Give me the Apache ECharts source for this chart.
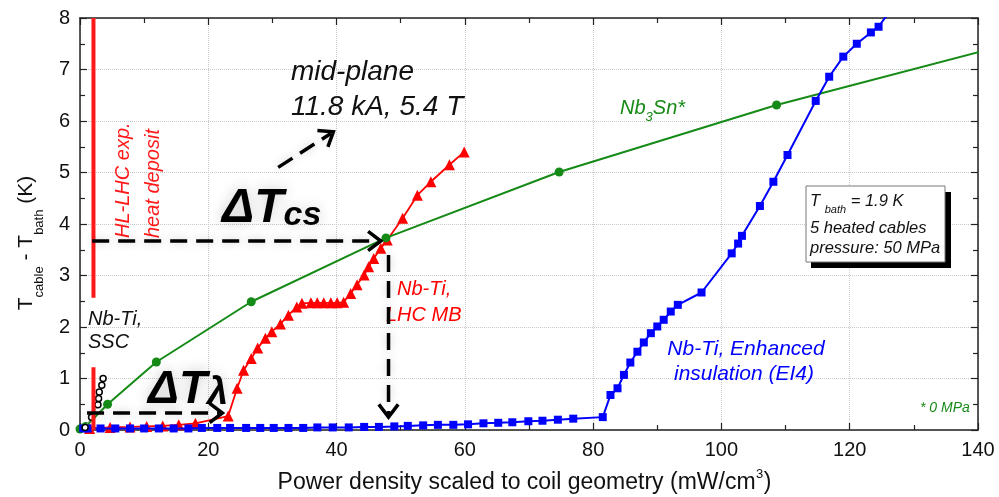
<!DOCTYPE html>
<html>
<head>
<meta charset="utf-8">
<script src="https://cdn.jsdelivr.net/npm/echarts@6/dist/echarts.min.js"></script>
<style>
  html, body { margin: 0; padding: 0; background: #fff; }
  #chart { width: 999px; height: 497px; }
</style>
</head>
<body>
<div id="chart"></div>
<script>
// tick labels
const xTicks = [0, 20, 40, 60, 80, 100, 120, 140]
const yTicks = [0, 1, 2, 3, 4, 5, 6, 7, 8]

// Nb3Sn* (0 MPa) - green circles, last point only continues the line
const nb3snPts = [[0, 0.02], [0.9, 0.07], [4.3, 0.5], [11.9, 1.32], [26.7, 2.49], [47.7, 3.73], [74.7, 5.01], [108.6, 6.31]]
const nb3snEnd = [140.5, 7.35]

// Nb-Ti, LHC MB - red triangles
const lhcPts = [
  [1.5, 0.03], [4.7, 0.05], [7.8, 0.06], [10.4, 0.07], [12.9, 0.08], [15.4, 0.1], [18.0, 0.13], [23.1, 0.27],
  [24.5, 0.81], [25.5, 1.16], [26.7, 1.39], [27.7, 1.59], [28.9, 1.78], [29.9, 1.91], [31.25, 2.06], [32.5, 2.23],
  [33.8, 2.39], [34.6, 2.46], [36.0, 2.47], [37.0, 2.47], [38.0, 2.47], [39.1, 2.47], [40.1, 2.47], [41.1, 2.48],
  [42.2, 2.65], [43.2, 2.82], [44.3, 3.01], [45.0, 3.17], [45.8, 3.33], [46.9, 3.53], [47.9, 3.69], [50.3, 4.11],
  [52.6, 4.56], [54.7, 4.82], [57.6, 5.15], [59.9, 5.4]
]

// Nb-Ti, Enhanced insulation (EI4) - blue squares
const ei4Pts = [
  [0.5, 0.03], [1.2, 0.03], [3.2, 0.03], [5.5, 0.03], [7.8, 0.03], [10.0, 0.03], [12.3, 0.03], [14.6, 0.03],
  [16.9, 0.03], [19.0, 0.04], [21.4, 0.04], [23.4, 0.04], [25.9, 0.04], [28.1, 0.04], [30.2, 0.04], [32.5, 0.04],
  [34.8, 0.04], [37.0, 0.05], [39.4, 0.05], [41.9, 0.05], [44.3, 0.06], [46.6, 0.06], [49.0, 0.07], [51.1, 0.08],
  [53.5, 0.09], [55.8, 0.1], [58.2, 0.1], [60.5, 0.11], [62.9, 0.13], [65.2, 0.14], [67.4, 0.15], [69.9, 0.17],
  [72.1, 0.18], [74.5, 0.2], [76.9, 0.22], [81.5, 0.25], [82.7, 0.68], [83.8, 0.81], [84.8, 1.07], [85.8, 1.31],
  [86.9, 1.52], [87.9, 1.7], [89.0, 1.88], [90.0, 2.01], [91.0, 2.14], [92.1, 2.3], [93.2, 2.43], [96.9, 2.67],
  [101.6, 3.43], [102.6, 3.62], [103.2, 3.77], [106.0, 4.35], [108.1, 4.82], [110.3, 5.34], [114.7, 6.39],
  [116.8, 6.86], [119.0, 7.25], [121.1, 7.5], [123.3, 7.72], [124.5, 7.83]
]
const ei4End = [127.5, 8.35]

// Nb-Ti, SSC - small open circles near the origin
const sscPts = [[0.8, 0.05], [1.8, 0.25], [2.8, 0.49], [2.9, 0.61], [3.0, 0.74], [3.4, 0.87], [3.6, 1.0]]

// HL-LHC expected heat deposit (vertical line, broken behind the SSC label)
const hlLhcX = 2.1
const hlLhcSpans = [[0, 1.22], [2.57, 8]]

// dashed arrows (data coordinates)
const csArrow = [[1.9, 3.67], [46.9, 3.67]]
const dropArrow = [[48.1, 3.4], [48.1, 0.25]]
const lambdaArrow = [[1.1, 0.33], [22.2, 0.33]]
const midArrow = [[30.9, 5.1], [39.5, 5.79]]

const FONT = 'Liberation Sans, Arial, sans-serif'
const RED = '#ff0000'
const GREEN = '#168a16'
const BLUE = '#0000ff'

let chart = echarts.init(document.getElementById('chart'))

const withEnd = (pts, end) => pts.map(p => ({ value: p })).concat([{ value: end, symbol: 'none' }])
const hlLhcData = []
hlLhcSpans.forEach((s, i) => {
  if (i > 0) hlLhcData.push([hlLhcX, '-'])
  hlLhcData.push([hlLhcX, s[0]], [hlLhcX, s[1]])
})

const tickAxis = {
  axisLine: { show: true, onZero: false, lineStyle: { color: '#222', width: 1.5 } },
  axisTick: { show: true, inside: true, length: 7, lineStyle: { color: '#222', width: 1.2 } },
  minorTick: { show: true, splitNumber: 2, length: 5, lineStyle: { color: '#222', width: 1.2 } },
}
const xRange = { min: xTicks[0], max: xTicks[xTicks.length - 1], interval: xTicks[1] - xTicks[0] }
const yRange = { min: yTicks[0], max: yTicks[yTicks.length - 1], interval: yTicks[1] - yTicks[0] }

const option = {
  animation: false,
  grid: { left: 80, right: 21, top: 18, bottom: 67, containLabel: false, outerBoundsMode: 'none' },
  xAxis: [
    {
      ...tickAxis,
      ...xRange,
      type: 'value',
      position: 'bottom',
      axisLabel: { fontFamily: FONT, fontSize: 20, color: '#111', margin: 10 },
      splitLine: { show: true, lineStyle: { color: '#c8c8c8', type: 'dotted', width: 1 } },
    },
    {
      ...tickAxis,
      ...xRange,
      type: 'value',
      position: 'top',
      axisLabel: { show: false },
      splitLine: { show: false },
    },
  ],
  yAxis: [
    {
      ...tickAxis,
      ...yRange,
      type: 'value',
      position: 'left',
      axisLabel: { fontFamily: FONT, fontSize: 20, color: '#111', margin: 10 },
      splitLine: { show: true, lineStyle: { color: '#c8c8c8', type: 'dotted', width: 1 } },
    },
    {
      ...tickAxis,
      ...yRange,
      type: 'value',
      position: 'right',
      axisLabel: { show: false },
      splitLine: { show: false },
    },
  ],
  series: [
    {
      name: 'Nb-Ti, LHC MB',
      type: 'line',
      data: lhcPts,
      symbol: 'triangle',
      symbolSize: 11,
      lineStyle: { color: RED, width: 1.8 },
      itemStyle: { color: RED },
      z: 3,
    },
    {
      name: 'Nb3Sn',
      type: 'line',
      data: withEnd(nb3snPts, nb3snEnd),
      symbol: 'circle',
      symbolSize: 9,
      lineStyle: { color: GREEN, width: 2 },
      itemStyle: { color: GREEN },
      z: 4,
    },
    {
      name: 'EI4',
      type: 'line',
      data: withEnd(ei4Pts, ei4End),
      symbol: 'rect',
      symbolSize: 8,
      lineStyle: { color: BLUE, width: 2 },
      itemStyle: { color: BLUE },
      z: 5,
    },
    {
      name: 'SSC',
      type: 'line',
      data: sscPts,
      symbol: 'circle',
      symbolSize: 6,
      lineStyle: { color: '#999', width: 1 },
      itemStyle: { color: '#fff', borderColor: '#000', borderWidth: 1.5 },
      z: 6,
    },
    {
      name: 'HL-LHC',
      type: 'line',
      data: hlLhcData,
      symbol: 'none',
      connectNulls: false,
      lineStyle: { color: '#ff1a1a', width: 4 },
      z: 7,
    },
  ],
}
chart.setOption(option)

// ---- annotations ----
const px = p => [
  chart.convertToPixel({ xAxisIndex: 0 }, p[0]),
  chart.convertToPixel({ yAxisIndex: 0 }, p[1]),
]

const ctx = document.createElement('canvas').getContext('2d')
function measure(text, size) {
  ctx.font = size + 'px ' + FONT
  return ctx.measureText(text).width
}

function dashedArrow(seg) {
  const p = px(seg[0]), q = px(seg[1])
  const dx = q[0] - p[0], dy = q[1] - p[1]
  const len = Math.hypot(dx, dy)
  const ux = dx / len, uy = dy / len
  const L = 16, ang = 0.65
  const c = Math.cos(ang), s = Math.sin(ang)
  const arm = k => [q[0] - L * (ux * c - k * uy * s), q[1] - L * (uy * c + k * ux * s)]
  return [
    {
      type: 'line',
      z: 100,
      shape: { x1: p[0], y1: p[1], x2: q[0] - ux * 3, y2: q[1] - uy * 3 },
      style: { stroke: '#000', lineWidth: 3.5, lineDash: [17, 9], shadowBlur: 10, shadowColor: 'rgba(0,0,0,0.22)' },
    },
    {
      type: 'polyline',
      z: 100,
      shape: { points: [arm(1), q, arm(-1)] },
      style: { stroke: '#000', lineWidth: 3.5, fill: null },
    },
  ]
}

function txt(x, y, text, o) {
  return {
    type: 'text',
    z: 90,
    x: x,
    y: y,
    rotation: o.rotation || 0,
    style: {
      text: text,
      fontFamily: FONT,
      fontSize: o.size || 20,
      fontStyle: o.upright ? 'normal' : 'italic',
      fontWeight: o.weight || 'normal',
      fill: o.color || '#111',
      align: o.align || 'left',
      verticalAlign: 'middle',
      rich: o.rich,
      textShadowBlur: o.glow || 0,
      textShadowColor: 'rgba(0,0,0,0.22)',
    },
  }
}

const it = (size, color, extra) => Object.assign({ fontFamily: FONT, fontSize: size, fontStyle: 'italic', fill: color }, extra)
const up = (size, extra) => Object.assign({ fontFamily: FONT, fontSize: size, fontStyle: 'normal', fill: '#111' }, extra)

// x axis title with superscript
const xTitleMain = 'Power density scaled to coil geometry (mW/cm'
const w1 = measure(xTitleMain, 23), w2 = measure('3', 13), w3 = measure(')', 23)
const xt0 = 524 - (w1 + w2 + w3) / 2
const xTitle = [
  txt(xt0, 483, xTitleMain, { size: 23, upright: true }),
  txt(xt0 + w1 + 0.5, 474, '3', { size: 13, upright: true }),
  txt(xt0 + w1 + w2 + 1, 483, ')', { size: 23, upright: true }),
]

const graphics = [].concat(
  xTitle,
  // y axis title
  txt(31, 243, '{a|T}{s|cable}{a| - T}{s|bath}{a| (K)}', {
    rotation: Math.PI / 2,
    align: 'center',
    rich: {
      a: up(21, { lineHeight: 30, verticalAlign: 'top' }),
      s: up(13, { lineHeight: 13, verticalAlign: 'bottom' }),
    },
  }),
  // mid-plane
  txt(291, 72, 'mid-plane', { size: 28 }),
  txt(291, 107, '11.8 kA, 5.4 T', { size: 28 }),
  // ΔTcs
  txt(222, 208, '{a|ΔT}{b|cs}', {
    glow: 14,
    rich: {
      a: it(48, '#000', { fontWeight: 'bold', lineHeight: 50, verticalAlign: 'bottom' }),
      b: it(34, '#000', { fontWeight: 'bold', lineHeight: 36, verticalAlign: 'bottom' }),
    },
  }),
  // ΔTλ
  txt(148, 389, '{a|ΔT}{b|λ}', {
    glow: 14,
    rich: {
      a: it(46, '#000', { fontWeight: 'bold', lineHeight: 48, verticalAlign: 'bottom' }),
      b: it(38, '#000', { fontWeight: 'bold', lineHeight: 40, verticalAlign: 'bottom' }),
    },
  }),
  // HL-LHC label
  txt(123, 238, 'HL-LHC exp.', { color: '#ff1a1a', rotation: Math.PI / 2 }),
  txt(153, 238, 'heat deposit', { color: '#ff1a1a', rotation: Math.PI / 2 }),
  // SSC label
  txt(88, 319, 'Nb-Ti,', {}),
  txt(88, 342, 'SSC', {}),
  // LHC MB label
  txt(397, 289, 'Nb-Ti,', { color: RED }),
  txt(386, 315, 'LHC MB', { color: RED }),
  // Nb3Sn label
  txt(620, 111, '{a|Nb}{s|3}{a|Sn*}', {
    rich: {
      a: it(20, GREEN, { lineHeight: 26, verticalAlign: 'top' }),
      s: it(13, GREEN, { lineHeight: 13, verticalAlign: 'bottom' }),
    },
  }),
  // EI4 label
  txt(746, 349, 'Nb-Ti, Enhanced', { color: BLUE, size: 21, align: 'center' }),
  txt(744, 374, 'insulation (EI4)', { color: BLUE, size: 21, align: 'center' }),
  // * 0 MPa
  txt(920, 408, '* 0 MPa', { color: GREEN, size: 14 }),
  // info box
  [
    { type: 'rect', z: 88, shape: { x: 811, y: 192, width: 140, height: 76 }, style: { fill: '#000' } },
    { type: 'rect', z: 89, shape: { x: 806, y: 186, width: 139, height: 76 }, style: { fill: '#fff', stroke: '#777', lineWidth: 1 } },
  ],
  txt(810, 204, '{a|T }{s|bath}{a| = 1.9 K}', {
    rich: {
      a: it(16.5, '#111', { lineHeight: 22, verticalAlign: 'top' }),
      s: it(11, '#111', { lineHeight: 11, verticalAlign: 'bottom' }),
    },
  }),
  txt(810, 228, '5 heated cables', { size: 16.5 }),
  txt(810, 248, 'pressure: 50 MPa', { size: 16.5 }),
  // arrows
  dashedArrow(csArrow),
  dashedArrow(dropArrow),
  dashedArrow(lambdaArrow),
  dashedArrow(midArrow)
)

chart.setOption({ graphic: graphics })
</script>
</body>
</html>
